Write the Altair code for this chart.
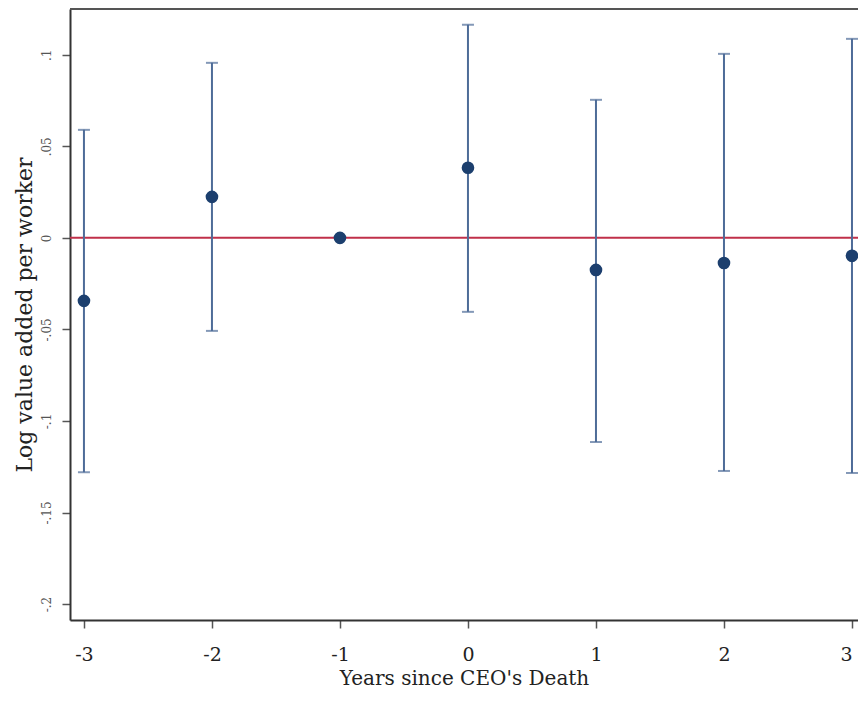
import altair as alt
import pandas as pd

years = [-3, -2, -1, 0, 1, 2, 3]
estimate = [-0.0344, 0.0224, 0.0, 0.0383, -0.0175, -0.0137, -0.0098]
ci_low = [-0.128, -0.0508, None, -0.0404, -0.1115, -0.1273, -0.1284]
ci_high = [0.059, 0.0956, None, 0.1164, 0.0754, 0.1005, 0.1087]
y_ticks = [-0.2, -0.15, -0.1, -0.05, 0, 0.05, 0.1]
x_ticks = [-3, -2, -1, 0, 1, 2, 3]

df = pd.DataFrame({"year": years, "est": estimate, "lo": ci_low, "hi": ci_high})
ci = df.dropna()

FONT = "DejaVu Serif"
xs = alt.Scale(domain=[-3.109, 3.047], nice=False, zero=False)
ys = alt.Scale(domain=[-0.2087, 0.125], nice=False, zero=False)

xaxis = alt.Axis(values=x_ticks, title="Years since CEO's Death",
                 labelExpr="replace(toString(datum.value), '−', '-')",
                 labelFont=FONT, labelFontSize=19, labelColor="#222", labelFlush=8,
                 titleFont=FONT, titleFontSize=20, titleFontWeight="normal", titleColor="#222",
                 tickSize=8, labelPadding=17, titlePadding=4,
                 domainColor="#333", domainWidth=2, tickColor="#555", tickWidth=1.5, grid=False)
yaxis = alt.Axis(values=y_ticks, title="Log value added per worker",
                 labelExpr="datum.value == 0 ? '0' : (datum.value < 0 ? '-' : '') + replace(toString(abs(datum.value)), '0.', '.')",
                 labelAngle=270, labelAlign="center", labelBaseline="bottom",
                 labelFont=FONT, labelFontSize=12, labelColor="#555", labelPadding=9,
                 titleFont=FONT, titleFontSize=22, titleFontWeight="normal", titleColor="#222",
                 titlePadding=4, tickSize=8, domainColor="#333", domainWidth=2,
                 tickColor="#555", tickWidth=1.5, grid=False)

zero_line = alt.Chart(pd.DataFrame({"z": [0]})).mark_rule(color="#c0304a", strokeWidth=2).encode(
    y=alt.Y("z:Q", scale=ys, axis=yaxis))

top_border = alt.Chart(pd.DataFrame({"z": [0]})).mark_rule(color="#555", strokeWidth=2).encode(
    y=alt.value(0))

bars = alt.Chart(ci).mark_rule(color="#4e6c98", strokeWidth=2).encode(
    x=alt.X("year:Q", scale=xs, axis=xaxis),
    y=alt.Y("lo:Q", scale=ys, axis=yaxis),
    y2="hi:Q")

cap_lo = alt.Chart(ci).mark_tick(color="#4e6c98", orient="horizontal", size=12, thickness=2).encode(
    x=alt.X("year:Q", scale=xs), y=alt.Y("lo:Q", scale=ys))
cap_hi = alt.Chart(ci).mark_tick(color="#4e6c98", orient="horizontal", size=12, thickness=2).encode(
    x=alt.X("year:Q", scale=xs), y=alt.Y("hi:Q", scale=ys))

points = alt.Chart(df).mark_circle(color="#1c3f6e", size=160, opacity=1).encode(
    x=alt.X("year:Q", scale=xs, axis=xaxis),
    y=alt.Y("est:Q", scale=ys, axis=yaxis))

chart = alt.layer(zero_line, bars, cap_lo, cap_hi, points, top_border).properties(
    width=788, height=611,
    autosize=alt.AutoSizeParams(type="none"),
    padding={"left": 62, "top": 1, "right": 0, "bottom": 70},
).configure_view(stroke=None).configure(background="white")

chart.save("out.html", embed_options={"renderer": "svg", "actions": False})
